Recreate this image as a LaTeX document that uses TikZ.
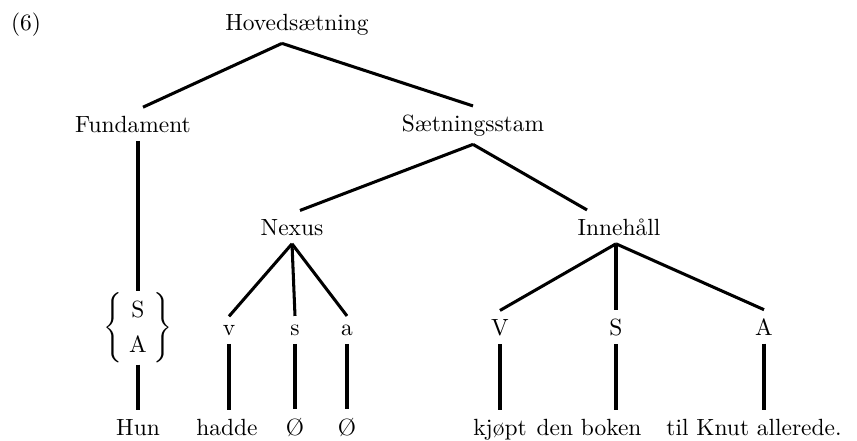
\documentclass[tikz,border=0pt]{standalone}
\usepackage{amsmath}

\begin{document}
\begin{tikzpicture}[x=0.015cm,y=-0.015cm,line width=1.3pt]
\tikzstyle{every node}+=[anchor=base,inner sep=3pt]
\useasboundingbox (0,0) rectangle (857,440);
% labels
\node (num) at (26,30) {(6)};
\node (hs) at (297,30) {Hovedsætning};
\node (fu) at (133,132) {Fundament};
\node (ss) at (473,131) {Sætningsstam};
\node (nx) at (292,235) {Nexus};
\node (in) at (619,235) {Innehåll};
\node (sa) [anchor=center,inner sep=0pt] at (138,328)
  {\renewcommand{\arraystretch}{1.24}$\left\{\begin{array}{@{\hspace{3pt}}c@{\hspace{3pt}}}\mathrm{S}\\\mathrm{A}\end{array}\right\}$};
\node (v) at (229,335) {v};
\node (s) at (295,335) {s};
\node (a) at (347,335) {a};
\node (V) at (500,335) {V};
\node (S) at (616,335) {S};
\node (A) at (764,335) {A};
% words
\node (hun) at (138,435) {Hun};
\node (hadde) at (227,435) {hadde};
\node (nulls) at (295,435) {Ø};
\node (nulla) at (347,435) {Ø};
\node (kjopt) at (500,435) {kjøpt};
\node (boken) at (589,435) {den boken};
\node (knut) at (754,435) {til Knut allerede.};
% branches
\draw ([xshift=-0.225cm]hs.south) -- ([xshift=0.15cm]fu.north);
\draw ([xshift=-0.225cm]hs.south) -- (ss.north);
\draw (ss.south) -- ([xshift=0.12cm]nx.north);
\draw (ss.south) -- ([xshift=-0.48cm]in.north);
\draw (sa.north |- fu.south) -- (sa.north);
\draw (sa.south) -- (hun.north);
\draw (nx.south) -- (v.north);
\draw (nx.south) -- (s.north);
\draw (nx.south) -- (a.north);
\draw ([xshift=-0.045cm]in.south) -- (V.north);
\draw ([xshift=-0.045cm]in.south) -- (S.north);
\draw ([xshift=-0.045cm]in.south) -- (A.north);
\draw (v.south) -- (v.south |- hadde.north);
\draw (s.south) -- (s.south |- nulls.north);
\draw (a.south) -- (a.south |- nulla.north);
\draw (V.south) -- (V.south |- kjopt.north);
\draw (S.south) -- (S.south |- boken.north);
\draw (A.south) -- (A.south |- knut.north);
\end{tikzpicture}
\end{document}
